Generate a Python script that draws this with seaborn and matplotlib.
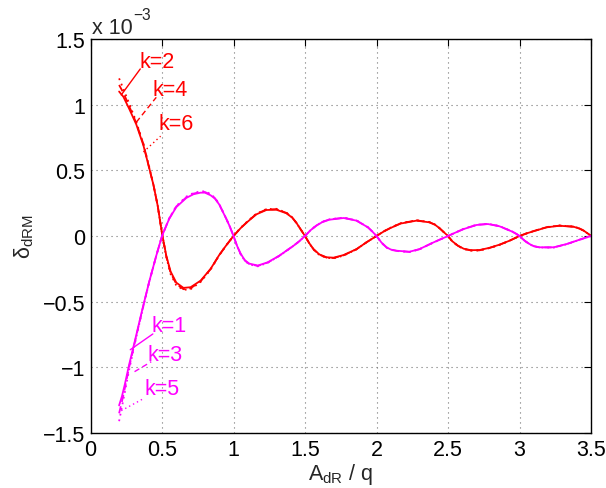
import matplotlib
matplotlib.use("Agg")
import matplotlib.pyplot as plt
import seaborn as sns
import pandas as pd

# ---------------- data (y in units of 1e-3) ----------------
x_red = [0.20, 0.23, 0.27, 0.32, 0.37, 0.41, 0.44, 0.47, 0.50, 0.53,
         0.56, 0.60, 0.65, 0.70, 0.77, 0.84, 0.90, 0.95, 1.00, 1.05,
         1.10, 1.16, 1.23, 1.30, 1.37, 1.41, 1.44, 1.47, 1.50, 1.53,
         1.56, 1.60, 1.65, 1.70, 1.77, 1.86, 1.93, 2.00, 2.05, 2.10,
         2.17, 2.28, 2.37, 2.41, 2.44, 2.47, 2.50, 2.53, 2.57, 2.61,
         2.66, 2.72, 2.79, 2.86, 2.93, 3.00, 3.05, 3.10, 3.19, 3.28,
         3.38, 3.42, 3.45, 3.48, 3.50]
red_k2 = [1.10, 1.06, 0.97, 0.85, 0.69, 0.52, 0.39, 0.23, 0.02, -0.15,
          -0.27, -0.355, -0.395, -0.39, -0.34, -0.25, -0.145, -0.07, 0.00, 0.06,
          0.11, 0.165, 0.198, 0.20, 0.173, 0.14, 0.10, 0.05, 0.00, -0.055,
          -0.10, -0.14, -0.162, -0.165, -0.145, -0.10, -0.048, 0.00, 0.034, 0.062,
          0.095, 0.117, 0.104, 0.085, 0.06, 0.03, 0.00, -0.04, -0.074, -0.097,
          -0.108, -0.107, -0.09, -0.066, -0.036, 0.00, 0.02, 0.037, 0.066, 0.078,
          0.07, 0.056, 0.04, 0.017, 0.00]
red_k4 = [1.15, 1.09, 0.99, 0.86, 0.70, 0.52, 0.39, 0.23, 0.02, -0.155,
          -0.28, -0.365, -0.405, -0.398, -0.345, -0.252, -0.146, -0.07, 0.00, 0.061,
          0.112, 0.168, 0.202, 0.204, 0.176, 0.142, 0.10, 0.05, 0.00, -0.056,
          -0.102, -0.142, -0.164, -0.168, -0.147, -0.101, -0.048, 0.00, 0.035, 0.063,
          0.097, 0.119, 0.105, 0.086, 0.06, 0.03, 0.00, -0.041, -0.075, -0.098,
          -0.11, -0.109, -0.091, -0.067, -0.036, 0.00, 0.02, 0.038, 0.067, 0.079,
          0.071, 0.057, 0.04, 0.017, 0.00]
red_k6 = [1.20, 1.12, 1.01, 0.87, 0.70, 0.53, 0.39, 0.23, 0.02, -0.16,
          -0.29, -0.375, -0.41, -0.405, -0.35, -0.255, -0.147, -0.07, 0.00, 0.062,
          0.114, 0.17, 0.205, 0.207, 0.178, 0.143, 0.10, 0.05, 0.00, -0.057,
          -0.104, -0.144, -0.166, -0.17, -0.149, -0.102, -0.048, 0.00, 0.035, 0.064,
          0.098, 0.12, 0.106, 0.087, 0.06, 0.03, 0.00, -0.042, -0.076, -0.099,
          -0.111, -0.11, -0.092, -0.068, -0.036, 0.00, 0.02, 0.038, 0.068, 0.08,
          0.072, 0.058, 0.04, 0.017, 0.00]

x_mag = [0.20, 0.22, 0.24, 0.27, 0.31, 0.36, 0.41, 0.46, 0.50, 0.55,
         0.60, 0.67, 0.72, 0.77, 0.80, 0.84, 0.87, 0.90, 0.95, 0.975,
         1.00, 1.025, 1.05, 1.08, 1.11, 1.17, 1.24, 1.32, 1.42, 1.46,
         1.50, 1.54, 1.58, 1.62, 1.67, 1.77, 1.86, 1.94, 1.97, 2.00,
         2.035, 2.07, 2.10, 2.14, 2.23, 2.30, 2.40, 2.45, 2.50, 2.55,
         2.61, 2.70, 2.78, 2.86, 2.95, 2.975, 3.00, 3.035, 3.07, 3.10,
         3.14, 3.24, 3.33, 3.42, 3.50]
mag_k1 = [-1.29, -1.22, -1.13, -0.98, -0.80, -0.57, -0.35, -0.15, 0.00, 0.13,
          0.22, 0.29, 0.318, 0.33, 0.33, 0.31, 0.285, 0.24, 0.13, 0.07,
          0.00, -0.075, -0.135, -0.185, -0.21, -0.225, -0.20, -0.15, -0.074, -0.04,
          0.00, 0.045, 0.079, 0.105, 0.124, 0.137, 0.117, 0.066, 0.035, 0.00,
          -0.05, -0.086, -0.103, -0.112, -0.12, -0.10, -0.048, -0.024, 0.00, 0.025,
          0.053, 0.084, 0.091, 0.074, 0.033, 0.018, 0.00, -0.035, -0.061, -0.077,
          -0.086, -0.086, -0.061, -0.028, 0.00]
mag_k3 = [-1.35, -1.26, -1.16, -1.00, -0.81, -0.575, -0.35, -0.15, 0.00, 0.132,
          0.225, 0.295, 0.323, 0.335, 0.335, 0.315, 0.288, 0.242, 0.13, 0.07,
          0.00, -0.076, -0.137, -0.188, -0.213, -0.228, -0.202, -0.151, -0.074, -0.04,
          0.00, 0.046, 0.08, 0.107, 0.126, 0.139, 0.118, 0.066, 0.035, 0.00,
          -0.051, -0.087, -0.104, -0.113, -0.121, -0.101, -0.048, -0.024, 0.00, 0.025,
          0.054, 0.085, 0.092, 0.075, 0.033, 0.018, 0.00, -0.035, -0.062, -0.078,
          -0.087, -0.087, -0.062, -0.028, 0.00]
mag_k5 = [-1.41, -1.30, -1.19, -1.02, -0.82, -0.58, -0.355, -0.15, 0.00, 0.134,
          0.228, 0.30, 0.328, 0.34, 0.34, 0.32, 0.29, 0.245, 0.13, 0.07,
          0.00, -0.077, -0.139, -0.19, -0.216, -0.231, -0.204, -0.152, -0.075, -0.04,
          0.00, 0.046, 0.081, 0.108, 0.127, 0.14, 0.119, 0.067, 0.035, 0.00,
          -0.052, -0.088, -0.105, -0.114, -0.122, -0.102, -0.049, -0.024, 0.00, 0.025,
          0.055, 0.086, 0.093, 0.076, 0.034, 0.018, 0.00, -0.036, -0.063, -0.079,
          -0.088, -0.088, -0.063, -0.029, 0.00]

labels = ["k=2", "k=4", "k=6", "k=1", "k=3", "k=5"]
label_pos = [(0.343, 1.33), (0.436, 1.113), (0.478, 0.853),
             (0.425, -0.683), (0.401, -0.899), (0.378, -1.159)]
leader_x = [(0.215, 0.348), (0.32, 0.46), (0.37, 0.49),
            (0.278, 0.436), (0.308, 0.425), (0.215, 0.366)]
leader_y = [(1.074, 1.272), (0.866, 1.056), (0.64, 0.76),
            (-0.866, -0.746), (-1.033, -0.957), (-1.33, -1.241)]

xticks = [0, 0.5, 1, 1.5, 2, 2.5, 3, 3.5]
xtick_labels = ["0", "0.5", "1", "1.5", "2", "2.5", "3", "3.5"]
yticks = [-1.5, -1, -0.5, 0, 0.5, 1, 1.5]
ytick_labels = ["\u22121.5", "\u22121", "\u22120.5", "0", "0.5", "1", "1.5"]

# ---------------- styling ----------------
sns.set_style("white")
plt.rcParams["font.family"] = ["Liberation Sans", "DejaVu Sans"]
plt.rcParams["mathtext.fontset"] = "custom"
plt.rcParams["mathtext.rm"] = "Liberation Sans"
plt.rcParams["mathtext.it"] = "Liberation Sans:italic"
plt.rcParams["mathtext.bf"] = "Liberation Sans:bold"

FS = 15.5
RED = (1, 0, 0)
MAG = (1, 0, 1)
dotted = (0, (1, 2.2))
dashed = (0, (4, 2.5))

fig = plt.figure(figsize=(6.06, 4.89), dpi=100)
ax = fig.add_axes([90.5 / 606, 55 / 489, 500.5 / 606, 394 / 489])

series = [
    (x_red, red_k2, RED, "-"),
    (x_red, red_k4, RED, dashed),
    (x_red, red_k6, RED, dotted),
    (x_mag, mag_k1, MAG, "-"),
    (x_mag, mag_k3, MAG, dashed),
    (x_mag, mag_k5, MAG, dotted),
]
for xs, ys, col, ls in series:
    df = pd.DataFrame({"x": xs, "y": ys})
    sns.lineplot(data=df, x="x", y="y", ax=ax, color=col, linestyle=ls,
                 linewidth=1.3, estimator=None, sort=False)

colors = [RED, RED, RED, MAG, MAG, MAG]
styles = ["-", dashed, dotted, "-", dashed, dotted]
for lab, (tx, ty), lx, ly, col, ls in zip(labels, label_pos, leader_x, leader_y, colors, styles):
    ax.plot(lx, ly, color=col, linestyle=ls, linewidth=1.0)
    ax.text(tx, ty, lab, color=col, fontsize=FS, ha="left", va="center")

ax.set_xlim(0, 3.5)
ax.set_ylim(-1.5, 1.5)
ax.set_xticks(xticks)
ax.set_xticklabels(xtick_labels)
ax.set_yticks(yticks)
ax.set_yticklabels(ytick_labels)
ax.tick_params(direction="in", length=5, width=0.8, top=True, right=True,
               labelsize=FS, pad=4, colors="black")
ax.grid(True, color="0.45", linestyle=(0, (1, 3.5)), linewidth=0.8)
for s in ax.spines.values():
    s.set_color("black")
    s.set_linewidth(1.0)

ax.set_xlabel("A$_{\\rm dR}$ / q", fontsize=FS, labelpad=1)
ax.set_ylabel("\u03b4$_{\\rm dRM}$", fontsize=FS, labelpad=5)

fig.text(92 / 606, 1 - 28 / 489, "x 10", fontsize=FS, ha="left", va="center")
fig.text(133 / 606, 1 - 16 / 489, "\u22123", fontsize=FS * 0.72, ha="left", va="center")

fig.savefig("out.png", dpi=100)
